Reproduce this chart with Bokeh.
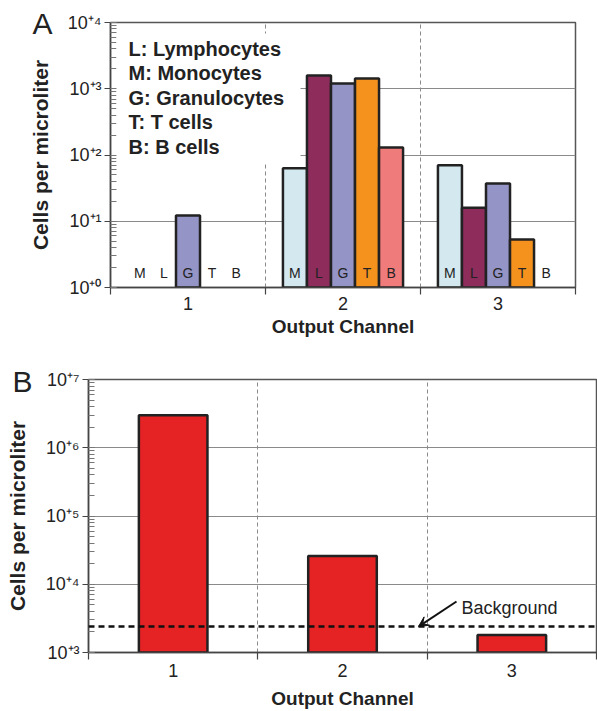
from bokeh.plotting import figure
from bokeh.layouts import column
from bokeh.models import (FixedTicker, Label, BoxAnnotation, Arrow, VeeHead, Span,
                          LinearAxis, Range1d, LinearScale)
from bokeh.core.properties import value
from bokeh.embed import file_html
from bokeh.resources import INLINE

FONT = "Liberation Sans"

# ---------------- data ----------------
channels = [1, 2, 3]
channel_labels = ["1", "2", "3"]
cell_types = ["M", "L", "G", "T", "B"]
legend_lines = ["L: Lymphocytes", "M: Monocytes", "G: Granulocytes", "T: T cells", "B: B cells"]
counts_M = [0, 63, 70]
counts_L = [0, 1580, 16]
counts_G = [12.2, 1200, 37]
counts_T = [0, 1430, 5.3]
counts_B = [0, 130, 0]
cell_colors = ["#D3E9EF", "#8E2D5C", "#9494C6", "#F5921E", "#F07B7B"]
ytick_values_A = [1, 10, 100, 1000, 10000]
ytick_labels_A = ["10⁺⁰", "10⁺¹", "10⁺²", "10⁺³", "10⁺⁴"]

totals = [3.0e6, 2.6e4, 1.8e3]
background_level = 2.4e3
ytick_values_B = [1e3, 1e4, 1e5, 1e6, 1e7]
ytick_labels_B = ["10⁺³", "10⁺⁴", "10⁺⁵", "10⁺⁶", "10⁺⁷"]

counts_by_type = [counts_M, counts_L, counts_G, counts_T, counts_B]


def style(p, tick_vals, tick_labels, panel_letter, letter_px_below_top, letter_standoff, title_standoff):
    p.background_fill_color = "white"
    p.border_fill_color = "white"
    p.outline_line_color = "#555555"
    p.outline_line_width = 1.5
    # x axis
    xa = p.xaxis[0]
    xa.ticker = FixedTicker(ticks=channels, minor_ticks=[0.5, 1.5, 2.5, 3.5])
    xa.major_label_overrides = {float(c): l for c, l in zip(channels, channel_labels)}
    xa.major_tick_out = 0
    xa.major_tick_in = 0
    xa.minor_tick_out = 7
    xa.minor_tick_in = 0
    xa.minor_tick_line_color = "#444444"
    xa.minor_tick_line_width = 1.2
    xa.axis_line_color = "#444444"
    xa.axis_line_width = 1.5
    xa.major_label_text_font = FONT
    xa.major_label_text_font_size = "18px"
    xa.major_label_text_color = "#222222"
    xa.axis_label = "Output Channel"
    xa.axis_label_text_font = FONT
    xa.axis_label_text_font_style = "bold"
    xa.axis_label_text_font_size = "19px"
    xa.axis_label_text_color = "#222222"
    # y axis (ticks only)
    ya = p.yaxis[0]
    ya.major_label_overrides = {float(v): l for v, l in zip(tick_vals, tick_labels)}
    ya.major_tick_out = 6
    ya.major_tick_in = 0
    ya.minor_tick_in = 6
    ya.minor_tick_out = 0
    ya.major_tick_line_color = "#444444"
    ya.minor_tick_line_color = "#777777"
    ya.axis_line_color = "#444444"
    ya.axis_line_width = 1.5
    ya.major_label_text_font = FONT
    ya.major_label_text_font_size = "18px"
    ya.major_label_text_color = "#222222"
    ya.major_label_standoff = 3
    ya.axis_label = None
    # outer axis (pixel-linear helper range): panel letter + y title
    fh = p.frame_height
    p.extra_y_ranges = {"lab": Range1d(0, fh)}
    p.extra_y_scales = {"lab": LinearScale()}
    pos = fh - letter_px_below_top
    oa = LinearAxis(y_range_name="lab", ticker=FixedTicker(ticks=[pos], minor_ticks=[]))
    oa.major_label_overrides = {float(pos): panel_letter}
    oa.axis_line_color = None
    oa.major_tick_line_color = None
    oa.minor_tick_line_color = None
    oa.major_tick_out = 0
    oa.major_tick_in = 0
    oa.major_label_standoff = letter_standoff
    oa.major_label_text_font = FONT
    oa.major_label_text_font_size = "30px"
    oa.major_label_text_color = "#222222"
    oa.axis_label = "Cells per microliter"
    oa.axis_label_text_font = FONT
    oa.axis_label_text_font_style = "bold"
    oa.axis_label_text_font_size = "21px"
    oa.axis_label_text_color = "#222222"
    oa.axis_label_standoff = title_standoff
    p.add_layout(oa, "left")
    # grids
    p.xgrid.ticker = FixedTicker(ticks=[1.5, 2.5])
    p.xgrid.grid_line_color = "#8a8a8a"
    p.xgrid.grid_line_dash = "4 3"
    p.xgrid.grid_line_width = 1
    p.ygrid.grid_line_color = "#8a8a8a"
    p.ygrid.grid_line_width = 1
    p.ygrid.minor_grid_line_color = None


# ---------------- panel A ----------------
pA = figure(frame_width=465, frame_height=265, x_range=(0.5, 3.5), y_range=(1, 1e4),
            y_axis_type="log", output_backend="svg", toolbar_location=None,
            min_border_left=110, min_border_right=22, min_border_top=22, min_border_bottom=58,
            frame_align=False)
style(pA, ytick_values_A, ytick_labels_A, "A", 1, 12, -23)
pA.xaxis[0].major_label_standoff = 2
pA.xaxis[0].axis_label_standoff = 3

bar_w = 0.155
for i, (ct, vals, col) in enumerate(zip(cell_types, counts_by_type, cell_colors)):
    xs = [c + (i - 2) * bar_w for c, v in zip(channels, vals) if v > 0]
    tops = [v for v in vals if v > 0]
    pA.vbar(x=xs, top=tops, bottom=1, width=bar_w, fill_color=col,
            line_color="#222222", line_width=2.5)

letter_x = []
letter_t = []
for c in channels:
    for i, ct in enumerate(cell_types):
        letter_x.append(c + (i - 2) * bar_w)
        letter_t.append(ct)
pA.text(x=letter_x, y=[1] * len(letter_x), text=letter_t, text_align="center",
        text_baseline="middle", y_offset=-15, text_font=value(FONT),
        text_font_size="14px", text_color="#222222")

ppd_A = 265 / 4.0  # pixels per decade


def yA(px_below_top):
    return 10 ** (4 - px_below_top / ppd_A)


# white box behind the key
pA.add_layout(BoxAnnotation(left=0.5 + 6 / 155, right=0.5 + 190 / 155, top=yA(11), bottom=yA(141),
                            fill_color="white", fill_alpha=1.0, line_alpha=0))
for k, txt in enumerate(legend_lines):
    pA.add_layout(Label(x=0.5, x_offset=18, y=yA(26 + 24.5 * k), text=txt,
                        text_font=FONT, text_font_size="20px", text_font_style="bold",
                        text_baseline="middle", text_color="#222222"))

# ---------------- panel B ----------------
pB = figure(frame_width=508, frame_height=273, x_range=(0.5, 3.5), y_range=(1e3, 1e7),
            y_axis_type="log", output_backend="svg", toolbar_location=None,
            min_border_left=88, min_border_right=1, min_border_top=34, min_border_bottom=59,
            frame_align=False)
style(pB, ytick_values_B, ytick_labels_B, "B", 2, 10, -20)
pB.xaxis[0].major_label_standoff = 4
pB.xaxis[0].axis_label_standoff = 8

pB.vbar(x=channels, top=totals, bottom=1e3, width=0.405, fill_color="#E52325",
        line_color="#222222", line_width=2.5)
pB.add_layout(Span(location=background_level, dimension="width", line_color="#111111",
                   line_width=2.5, line_dash="6 4"))

ppd_B = 273 / 4.0
px_per_unit_B = 508 / 3.0


def yB(px_below_top):
    return 10 ** (7 - px_below_top / ppd_B)


def xB(px_from_left):
    return 0.5 + px_from_left / px_per_unit_B


pB.add_layout(Arrow(end=VeeHead(size=10, fill_color="#111111", line_color="#111111"),
                    x_start=xB(368), y_start=yB(222), x_end=xB(330), y_end=background_level,
                    line_color="#111111", line_width=2))
pB.add_layout(Label(x=xB(373), y=yB(228), text="Background", text_font=FONT,
                    text_font_size="18px", text_baseline="middle", text_color="#222222"))

layout = column(pA, pB, spacing=0)
open("out.html", "w").write(file_html(layout, INLINE))
